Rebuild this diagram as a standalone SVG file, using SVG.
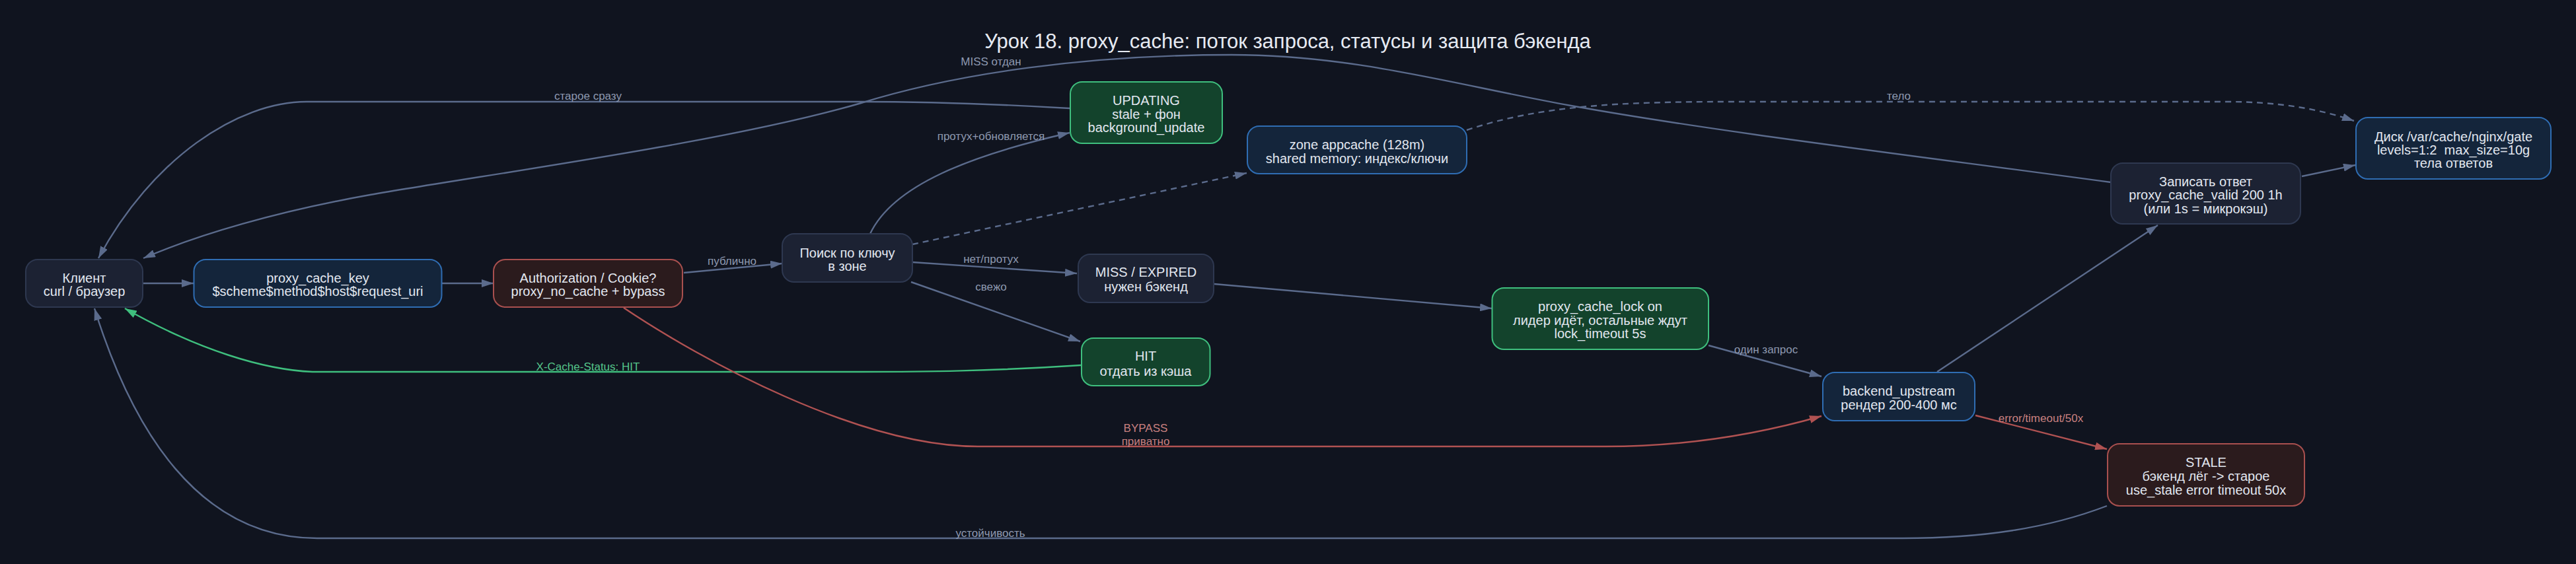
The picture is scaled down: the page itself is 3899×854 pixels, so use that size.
<svg xmlns="http://www.w3.org/2000/svg" width="3899" height="854" viewBox="0 0 3899 854">
<defs>
<style>
.bg{fill:#10141f}
.title{font-family:"Liberation Sans",Arial,sans-serif;font-size:31px;fill:#e6eaf2;text-anchor:middle}
.n rect{stroke-width:2}
.n text{font-family:"Liberation Sans",Arial,sans-serif;font-size:20px;fill:#e2e7f0;text-anchor:middle;white-space:pre}
.def rect{fill:#1c2233;stroke:#2e3850}
.blue rect{fill:#14253b;stroke:#2f6db3}
.green rect{fill:#13432c;stroke:#3fbf7e}
.red rect{fill:#2b1b1d;stroke:#a9504f}
.e{fill:none;stroke-width:2.4}
.g{stroke:#5b6b8c}
.gr{stroke:#3fbf7e}
.r{stroke:#b05252}
.dash{stroke-dasharray:9,7}
.lbl{font-family:"Liberation Sans",Arial,sans-serif;font-size:17px;text-anchor:middle;fill:#8e99b0}
.lg{fill:#55c58a}
.lr{fill:#c98080}
</style>
<marker id="ag" markerUnits="userSpaceOnUse" markerWidth="18" markerHeight="12" refX="18" refY="6" orient="auto"><path d="M0,0 L18,6 L0,12 z" fill="#5b6b8c"/></marker>
<marker id="agr" markerUnits="userSpaceOnUse" markerWidth="18" markerHeight="12" refX="18" refY="6" orient="auto"><path d="M0,0 L18,6 L0,12 z" fill="#3fbf7e"/></marker>
<marker id="ar" markerUnits="userSpaceOnUse" markerWidth="18" markerHeight="12" refX="18" refY="6" orient="auto"><path d="M0,0 L18,6 L0,12 z" fill="#b05252"/></marker>
</defs>
<rect class="bg" x="0" y="0" width="3899" height="854"/>
<text class="title" x="1949" y="73">Урок 18. proxy_cache: поток запроса, статусы и защита бэкенда</text>

<g id="connectors">
<path class="e g" marker-end="url(#ag)" d="M216,429 L293,429"/>
<path class="e g" marker-end="url(#ag)" d="M668,429 L747,429"/>
<path class="e g" marker-end="url(#ag)" d="M1035,413 L1184,399"/>
<text class="lbl" x="1108" y="401">публично</text>
<path class="e g" marker-end="url(#ag)" d="M1317,354 C1352,280 1470,235 1619,201"/>
<text class="lbl" x="1500" y="212">протух+обновляется</text>
<path class="e g dash" marker-end="url(#ag)" d="M1381,370 L1887,262"/>
<path class="e g" marker-end="url(#ag)" d="M1381,397 L1630,414"/>
<text class="lbl" x="1500" y="398">нет/протух</text>
<path class="e g" marker-end="url(#ag)" d="M1379,427 L1635,517"/>
<text class="lbl" x="1500" y="440">свежо</text>
<path class="e g" marker-end="url(#ag)" d="M1838,430 L2258,467"/>
<path class="e g" marker-end="url(#ag)" d="M2586,523 L2757,570"/>
<text class="lbl" x="2673" y="535">один запрос</text>
<path class="e g" marker-end="url(#ag)" d="M2932,563 L3266,341"/>
<path class="e g" marker-end="url(#ag)" d="M3484,267 L3565,250"/>
<path class="e g dash" marker-end="url(#ag)" d="M2220,197 C2330,160 2450,154 2620,154 L3370,154 C3450,154 3510,165 3563,183"/>
<text class="lbl" x="2874" y="151">тело</text>
<path class="e g" marker-end="url(#ag)" d="M3195,276 C2900,236 2600,200 2378,160 C2200,128 2050,83 1864,83 C1650,83 1450,110 1300,157 C1100,215 750,262 560,295 C420,320 300,355 217,391"/>
<text class="lbl" x="1500" y="99">MISS отдан</text>
<path class="e g" marker-end="url(#ag)" d="M1619,164 C1500,157 1400,154 1300,154 L464,154 C360,154 230,240 149,391"/>
<text class="lbl" x="890" y="151">старое сразу</text>
<path class="e gr" marker-end="url(#agr)" d="M1636,553 C1500,562 1400,563 1300,563 L473,563 C400,560 300,530 189,467"/>
<text class="lbl lg" x="890" y="561">X-Cache-Status: HIT</text>
<path class="e r" marker-end="url(#ar)" d="M944,466 C1060,544 1300,676 1480,676 L2430,676 C2560,676 2670,655 2757,630"/>
<text class="lbl lr" x="1734" y="654">BYPASS</text>
<text class="lbl lr" x="1734" y="674">приватно</text>
<path class="e r" marker-end="url(#ar)" d="M2990,629 L3189,680"/>
<text class="lbl lr" x="3089" y="639">error/timeout/50x</text>
<path class="e g" marker-end="url(#ag)" d="M3189,766 C3100,800 3000,815 2880,815 L480,815 C300,815 200,650 143,467"/>
<text class="lbl" x="1499" y="813">устойчивость</text>
</g>

<g id="client" class="n def"><rect x="39" y="393" width="177" height="72" rx="18"/><text x="127.5" y="428">Клиент</text><text x="127.5" y="448">curl / браузер</text></g>
<g id="cache_key" class="n blue"><rect x="293.5" y="393" width="375" height="72" rx="18"/><text x="481" y="428">proxy_cache_key</text><text x="481" y="448">$scheme$method$host$request_uri</text></g>
<g id="auth" class="n red"><rect x="747" y="393" width="286" height="72" rx="18"/><text x="890" y="428">Authorization / Cookie?</text><text x="890" y="448">proxy_no_cache + bypass</text></g>
<g id="lookup" class="n def"><rect x="1184" y="354" width="197" height="73" rx="18"/><text x="1282.5" y="390">Поиск по ключу</text><text x="1282.5" y="410">в зоне</text></g>
<g id="updating" class="n green"><rect x="1620" y="124" width="230" height="93" rx="18"/><text x="1735" y="159">UPDATING</text><text x="1735" y="180">stale + фон</text><text x="1735" y="200">background_update</text></g>
<g id="zone" class="n blue"><rect x="1888" y="191" width="332" height="72" rx="18"/><text x="2054" y="226">zone appcache (128m)</text><text x="2054" y="247">shared memory: индекс/ключи</text></g>
<g id="miss" class="n def"><rect x="1632" y="385" width="205" height="73" rx="18"/><text x="1734.5" y="419">MISS / EXPIRED</text><text x="1734.5" y="441">нужен бэкенд</text></g>
<g id="hit" class="n green"><rect x="1637" y="512" width="194.5" height="72" rx="18"/><text x="1734" y="546">HIT</text><text x="1734" y="569">отдать из кэша</text></g>
<g id="lock" class="n green"><rect x="2258.5" y="436" width="327.5" height="93" rx="18"/><text x="2422" y="471">proxy_cache_lock on</text><text x="2422" y="492">лидер идёт, остальные ждут</text><text x="2422" y="512">lock_timeout 5s</text></g>
<g id="backend" class="n blue"><rect x="2759" y="564" width="230" height="73" rx="18"/><text x="2874" y="599">backend_upstream</text><text x="2874" y="620">рендер 200-400 мс</text></g>
<g id="write" class="n def"><rect x="3195" y="247" width="287" height="92" rx="18"/><text x="3338.5" y="282">Записать ответ</text><text x="3338.5" y="302">proxy_cache_valid 200 1h</text><text x="3338.5" y="323">(или 1s = микрокэш)</text></g>
<g id="disk" class="n blue"><rect x="3566" y="178" width="295" height="93" rx="18"/><text x="3713.5" y="214">Диск /var/cache/nginx/gate</text><text x="3713.5" y="234">levels=1:2  max_size=10g</text><text x="3713.5" y="254">тела ответов</text></g>
<g id="stale" class="n red"><rect x="3190" y="672" width="298" height="94" rx="18"/><text x="3339" y="707">STALE</text><text x="3339" y="728">бэкенд лёг -&gt; старое</text><text x="3339" y="749">use_stale error timeout 50x</text></g>
</svg>
